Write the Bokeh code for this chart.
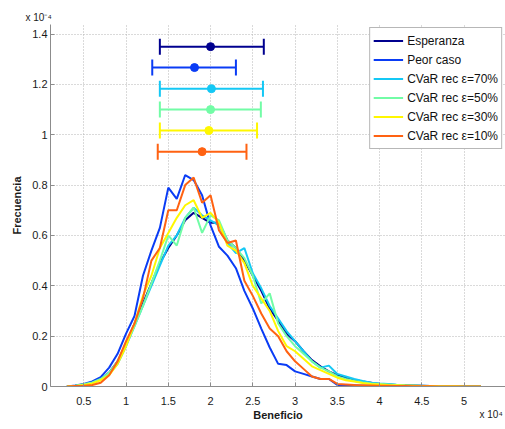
from bokeh.plotting import figure
from bokeh.models import Range1d, FixedTicker, Legend, LegendItem, Label, ColumnDataSource
from bokeh.embed import file_html
from bokeh.resources import INLINE
import math

# ---- data (x in units of 1e4, y in units of 1e-4) ----
x_vals = [0.3, 0.4, 0.5, 0.6, 0.7, 0.8, 0.9, 1.0, 1.1, 1.2,
          1.3, 1.4, 1.5, 1.6, 1.7, 1.8, 1.9, 2.0, 2.1, 2.2,
          2.3, 2.4, 2.5, 2.6, 2.7, 2.8, 2.9, 3.0, 3.1, 3.2,
          3.3, 3.4, 3.5, 3.6, 3.7, 3.8, 3.9, 4.0, 4.1, 4.2,
          4.3, 4.4, 4.5, 4.6, 4.7, 4.8, 4.9, 5.0, 5.1, 5.2]

esperanza = [0.0, 0.003, 0.008, 0.015, 0.03, 0.055, 0.10, 0.17, 0.25, 0.33,
             0.41, 0.49, 0.55, 0.60, 0.66, 0.69, 0.67, 0.65, 0.65, 0.58,
             0.55, 0.50, 0.44, 0.38, 0.31, 0.26, 0.21, 0.18, 0.14, 0.105,
             0.08, 0.06, 0.045, 0.035, 0.027, 0.02, 0.015, 0.01, 0.008, 0.006,
             0.005, 0.004, 0.003, 0.002, 0.002, 0.001, 0.001, 0.001, 0.0, 0.0]

peor_caso = [0.0, 0.004, 0.01, 0.02, 0.037, 0.075, 0.13, 0.21, 0.28, 0.44,
             0.54, 0.63, 0.79, 0.745, 0.84, 0.82, 0.76, 0.64, 0.555, 0.52,
             0.47, 0.38, 0.31, 0.23, 0.155, 0.09, 0.085, 0.06, 0.05, 0.04,
             0.03, 0.03, 0.006, 0.006, 0.005, 0.003, 0.003, 0.002, 0.002, 0.001,
             0.001, 0.001, 0.001, 0.0, 0.0, 0.0, 0.0, 0.0, 0.0, 0.0]

cvar_70 = [0.0, 0.003, 0.008, 0.014, 0.028, 0.05, 0.09, 0.16, 0.24, 0.32,
           0.40, 0.48, 0.56, 0.60, 0.67, 0.71, 0.68, 0.66, 0.64, 0.57,
           0.53, 0.55, 0.45, 0.39, 0.32, 0.27, 0.22, 0.18, 0.14, 0.10,
           0.075, 0.083, 0.05, 0.04, 0.03, 0.022, 0.015, 0.012, 0.01, 0.007,
           0.005, 0.004, 0.003, 0.002, 0.002, 0.001, 0.001, 0.001, 0.0, 0.0]

cvar_50 = [0.0, 0.003, 0.009, 0.016, 0.03, 0.055, 0.10, 0.165, 0.24, 0.32,
           0.41, 0.50, 0.60, 0.56, 0.67, 0.71, 0.61, 0.68, 0.66, 0.58,
           0.55, 0.51, 0.44, 0.33, 0.37, 0.25, 0.20, 0.16, 0.13, 0.10,
           0.075, 0.06, 0.04, 0.03, 0.022, 0.016, 0.012, 0.01, 0.008, 0.006,
           0.004, 0.003, 0.002, 0.002, 0.001, 0.001, 0.001, 0.0, 0.0, 0.0]

cvar_30 = [0.0, 0.002, 0.006, 0.012, 0.025, 0.045, 0.09, 0.16, 0.25, 0.36,
           0.44, 0.55, 0.61, 0.67, 0.72, 0.74, 0.67, 0.69, 0.65, 0.56,
           0.54, 0.49, 0.40, 0.35, 0.30, 0.22, 0.16, 0.14, 0.11, 0.08,
           0.065, 0.05, 0.035, 0.025, 0.02, 0.014, 0.01, 0.008, 0.006, 0.005,
           0.004, 0.003, 0.002, 0.002, 0.001, 0.001, 0.001, 0.0, 0.0, 0.0]

cvar_10 = [0.0, 0.002, 0.003, 0.006, 0.015, 0.045, 0.10, 0.18, 0.25, 0.35,
           0.50, 0.55, 0.70, 0.70, 0.80, 0.83, 0.73, 0.76, 0.62, 0.57,
           0.58, 0.42, 0.36, 0.29, 0.23, 0.20, 0.14, 0.10, 0.07, 0.04,
           0.03, 0.03, 0.01, 0.008, 0.006, 0.005, 0.004, 0.003, 0.003, 0.002,
           0.002, 0.001, 0.001, 0.001, 0.0, 0.0, 0.0, 0.0, 0.0, 0.0]

series_names = ["Esperanza", "Peor caso", "CVaR rec \u03b5=70%", "CVaR rec \u03b5=50%",
                "CVaR rec \u03b5=30%", "CVaR rec \u03b5=10%"]
series_colors = ["#00008f", "#0a3cf5", "#14c8f5", "#72fca6", "#fff700", "#ff6212"]
series_values = [esperanza, peor_caso, cvar_70, cvar_50, cvar_30, cvar_10]

# error bars (mean, lower, upper) and row heights
eb_y = [1.35, 1.267, 1.183, 1.10, 1.017, 0.933]
eb_mean = [2.0, 1.81, 2.01, 2.0, 1.98, 1.90]
eb_lo = [1.40, 1.31, 1.40, 1.40, 1.40, 1.375]
eb_hi = [2.63, 2.30, 2.62, 2.595, 2.55, 2.425]

x_ticks = [0.5, 1.0, 1.5, 2.0, 2.5, 3.0, 3.5, 4.0, 4.5, 5.0]
x_tick_labels = ["0.5", "1", "1.5", "2", "2.5", "3", "3.5", "4", "4.5", "5"]
y_ticks = [0.0, 0.2, 0.4, 0.6, 0.8, 1.0, 1.2, 1.4]
y_tick_labels = ["0", "0.2", "0.4", "0.6", "0.8", "1", "1.2", "1.4"]

y_exponent = "x 10\u207b\u2074"
x_exponent = "x 10\u2074"

FONT = "Liberation Sans"

p = figure(width=505, height=429, output_backend="svg", toolbar_location=None,
           x_range=Range1d(0.106, 5.49), y_range=Range1d(0.0, 1.438),
           min_border_left=50, min_border_right=0, min_border_top=24, min_border_bottom=43)
p.outline_line_color = None
p.background_fill_color = "white"
p.border_fill_color = "white"

p.xaxis.ticker = FixedTicker(ticks=x_ticks)
p.xaxis.major_label_overrides = {t: l for t, l in zip(x_ticks, x_tick_labels)}
p.yaxis.ticker = FixedTicker(ticks=y_ticks)
p.yaxis.major_label_overrides = {t: l for t, l in zip(y_ticks, y_tick_labels)}

for ax in [p.xaxis[0], p.yaxis[0]]:
    ax.axis_line_color = "#8c8c8c"
    ax.major_tick_line_color = "#8c8c8c"
    ax.major_tick_in = 4
    ax.major_tick_out = 0
    ax.minor_tick_line_color = None
    ax.major_label_text_font = FONT
    ax.major_label_text_font_size = "11px"
    ax.major_label_text_color = "#1a1a1a"
    ax.axis_label_text_font = FONT
    ax.axis_label_text_font_size = "11px"
    ax.axis_label_text_font_style = "bold"
    ax.axis_label_text_color = "#1a1a1a"

p.xaxis.axis_label = "Beneficio"
p.yaxis.axis_label = "Frecuencia"
p.xaxis.major_label_standoff = 10
p.xaxis.axis_label_standoff = 1
p.yaxis.major_label_standoff = 3
p.yaxis.axis_label_standoff = 6

for g in [p.xgrid[0], p.ygrid[0]]:
    g.grid_line_color = "#b4b4b4"
    g.grid_line_dash = "1 2"
    g.grid_line_width = 1

items = []
for name, col, vals in zip(series_names, series_colors, series_values):
    r = p.line(x_vals, vals, line_color=col, line_width=2)
    items.append(LegendItem(label=name, renderers=[r]))

# error bars
for i in range(len(eb_y)):
    col = series_colors[i]
    src = ColumnDataSource(dict(y=[eb_y[i]], m=[eb_mean[i]], lo=[eb_lo[i]], hi=[eb_hi[i]]))
    p.segment(x0="lo", y0="y", x1="hi", y1="y", source=src, line_color=col, line_width=2)
    p.scatter(x="lo", y="y", source=src, marker="dash", angle=math.pi / 2, size=16,
              line_color=col, line_width=2)
    p.scatter(x="hi", y="y", source=src, marker="dash", angle=math.pi / 2, size=16,
              line_color=col, line_width=2)
    p.scatter(x="m", y="y", source=src, marker="circle", size=8,
              fill_color=col, line_color=col)

legend = Legend(items=items, location="top_right")
legend.label_text_font = FONT
legend.label_text_font_size = "12px"
legend.label_text_color = "#111111"
legend.glyph_width = 30
legend.glyph_height = 19
legend.label_height = 19
legend.label_standoff = 4
legend.spacing = 0
legend.padding = 3
legend.margin = 3
legend.border_line_color = "#707070"
legend.border_line_width = 1
legend.background_fill_color = "white"
legend.background_fill_alpha = 1.0
p.add_layout(legend)

# exponent labels (both placed in the top side panel, which is not clipped)
p.add_layout(Label(x=-25, y=7, x_units="screen", y_units="screen", text=y_exponent,
                   text_font=FONT, text_font_size="10px", text_color="#1a1a1a",
                   text_baseline="middle", text_align="left"), "above")
p.add_layout(Label(x=429, y=-401, x_units="screen", y_units="screen", text=x_exponent,
                   text_font=FONT, text_font_size="10px", text_color="#1a1a1a",
                   text_baseline="middle", text_align="left"), "above")

open("out.html", "w").write(file_html(p, INLINE))
